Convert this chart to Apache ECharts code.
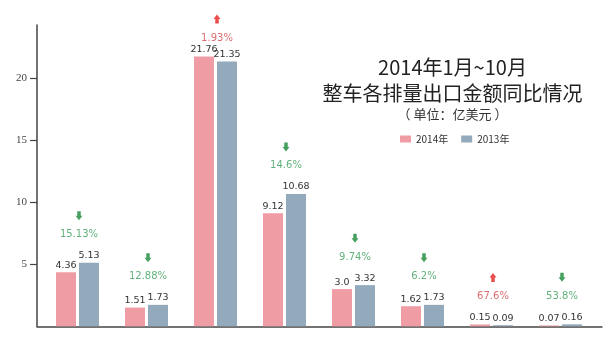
<!DOCTYPE html>
<html>
<head>
<meta charset="utf-8">
<style>
  html, body { margin: 0; padding: 0; background: #fff; }
  #chart { width: 612px; height: 342px; }
</style>
<script src="https://cdn.jsdelivr.net/npm/echarts@6/dist/echarts.min.js"></script>
</head>
<body>
<div id="chart"></div>
<script>
// Export value by displacement group, Jan–Oct (100 million USD)
const categories = ['1', '2', '3', '4', '5', '6', '7', '8'];
const labels2014 = ['4.36', '1.51', '21.76', '9.12', '3.0', '1.62', '0.15', '0.07'];
const labels2013 = ['5.13', '1.73', '21.35', '10.68', '3.32', '1.73', '0.09', '0.16'];
const changeRates = ['15.13%', '12.88%', '1.93%', '14.6%', '9.74%', '6.2%', '67.6%', '53.8%'];
const changeDirections = ['down', 'down', 'up', 'down', 'down', 'down', 'up', 'down'];
const yTickValues = [5, 10, 15, 20];
const seriesNames = ['2014年', '2013年'];

const values2014 = labels2014.map(Number);
const values2013 = labels2013.map(Number);

const PINK = '#f09ca4';
const BLUE = '#93a9bc';
const ARROW_DOWN = 'path://M2.5,0 L7.5,0 L7.5,5 L10,5 L5,10 L0,5 L2.5,5 Z';
const ARROW_UP = 'path://M5,0 L10,5 L7.5,5 L7.5,10 L2.5,10 L2.5,5 L0,5 Z';
const dirStyle = {
  down: { arrow: '#1a8838', text: '#3a9e5a', symbol: ARROW_DOWN },
  up:   { arrow: '#e3221e', text: '#d4474a', symbol: ARROW_UP }
};

const Y_MAX = 24.3;
// annotations sit above the taller bar of each pair, kept below the plot top
const ANNOTATION_CEILING = 21;
const annotationAnchor = values2014.map((v, i) => Math.min(Math.max(v, values2013[i]), ANNOTATION_CEILING));

const chart = echarts.init(document.getElementById('chart'), null, { renderer: 'canvas' });

const valueLabel = (arr) => ({
  show: true,
  position: 'top',
  distance: 2,
  fontFamily: 'DejaVu Sans',
  fontSize: 9.5,
  color: '#333',
  formatter: (p) => arr[p.dataIndex]
});

chart.setOption({
  backgroundColor: '#fff',
  animation: false,
  grid: [
    { left: 37, right: 10, top: 25, bottom: 15.7 },
    { left: 43, right: 17, top: 25, bottom: 15.7 }
  ],
  xAxis: [
    {
      gridIndex: 0, type: 'value', min: 0, max: 1,
      axisLine: { show: true, lineStyle: { color: '#444', width: 1.5 } },
      axisTick: { show: false }, axisLabel: { show: false }, splitLine: { show: false }
    },
    {
      gridIndex: 1, type: 'category', data: categories,
      axisLine: { show: false }, axisTick: { show: false },
      axisLabel: { show: false }, splitLine: { show: false }
    }
  ],
  yAxis: [
    {
      gridIndex: 0, type: 'value', min: 0, max: Y_MAX,
      axisLine: { show: true, lineStyle: { color: '#444', width: 1.5 } },
      axisTick: { show: true, length: 7, customValues: yTickValues, lineStyle: { color: '#444', width: 1.2 } },
      axisLabel: {
        show: true, customValues: yTickValues, margin: 10,
        fontFamily: 'Liberation Serif', fontSize: 11, color: '#444'
      },
      splitLine: { show: false }
    },
    {
      gridIndex: 1, type: 'value', min: 0, max: Y_MAX, show: false,
      splitLine: { show: false }
    }
  ],
  legend: {
    data: seriesNames,
    left: 400,
    top: 134,
    itemWidth: 11,
    itemHeight: 7,
    itemGap: 13,
    icon: 'rect',
    padding: 0,
    textStyle: { fontFamily: 'Noto Sans CJK SC', fontSize: 10, color: '#333' }
  },
  graphic: [
    {
      type: 'text', x: 452.5, y: 67.5,
      style: {
        text: '2014年1月~10月', textAlign: 'center', textVerticalAlign: 'middle',
        font: '20px "Noto Sans CJK SC"', fill: '#222'
      }
    },
    {
      type: 'text', x: 452.5, y: 93.5,
      style: {
        text: '整车各排量出口金额同比情况', textAlign: 'center', textVerticalAlign: 'middle',
        font: '20px "Noto Sans CJK SC"', fill: '#222'
      }
    },
    {
      type: 'text', x: 452.5, y: 114,
      style: {
        text: '（ 单位：亿美元 ）', textAlign: 'center', textVerticalAlign: 'middle',
        font: '13px "Noto Sans CJK SC"', fill: '#333'
      }
    }
  ],
  series: [
    {
      name: seriesNames[0], type: 'bar', xAxisIndex: 1, yAxisIndex: 1,
      data: values2014, barWidth: 20, barGap: '15%',
      itemStyle: { color: PINK },
      label: valueLabel(labels2014)
    },
    {
      name: seriesNames[1], type: 'bar', xAxisIndex: 1, yAxisIndex: 1,
      data: values2013, barWidth: 20, barGap: '15%',
      itemStyle: { color: BLUE },
      label: valueLabel(labels2013)
    },
    {
      // change arrows above each group
      type: 'scatter', xAxisIndex: 1, yAxisIndex: 1, silent: true,
      symbolSize: [7, 9],
      symbolOffset: [1.5, -47],
      data: annotationAnchor.map((v, i) => ({
        value: [i, v],
        symbol: dirStyle[changeDirections[i]].symbol,
        itemStyle: { color: dirStyle[changeDirections[i]].arrow }
      })),
      z: 5
    },
    {
      // year-on-year change text
      type: 'scatter', xAxisIndex: 1, yAxisIndex: 1, silent: true,
      symbolSize: 0,
      data: annotationAnchor.map((v, i) => ({
        value: [i, v],
        label: { color: dirStyle[changeDirections[i]].text }
      })),
      label: {
        show: true, position: 'top', distance: 23, offset: [1.5, 0],
        fontFamily: 'DejaVu Sans', fontSize: 10,
        formatter: (p) => changeRates[p.dataIndex]
      },
      z: 5
    }
  ]
});
</script>
</body>
</html>
